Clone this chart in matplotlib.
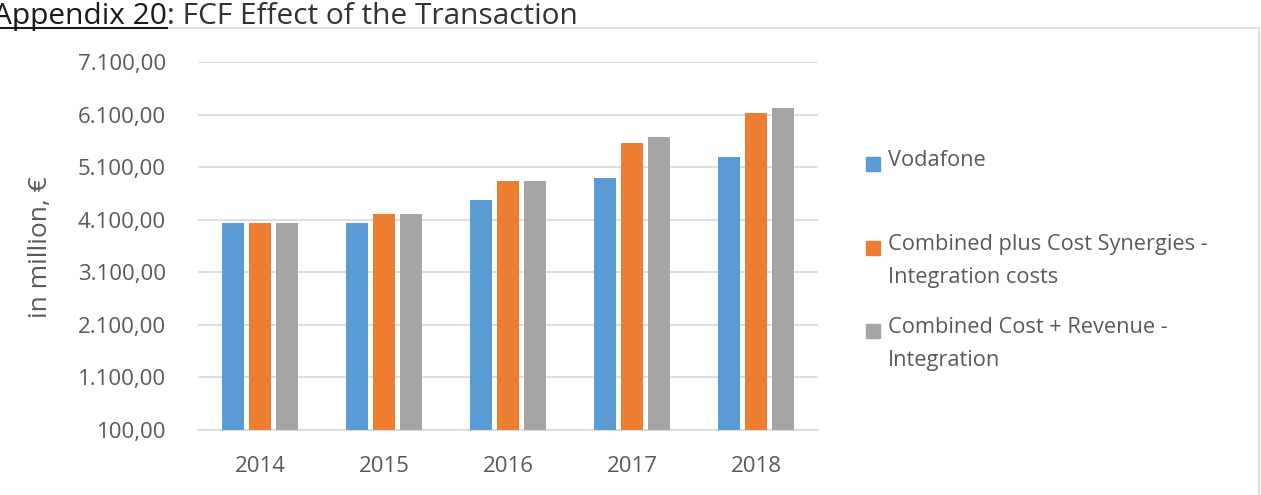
import matplotlib
matplotlib.use("Agg")
import matplotlib.pyplot as plt
from matplotlib.lines import Line2D
from matplotlib.patches import Rectangle
import numpy as np

years = ["2014", "2015", "2016", "2017", "2018"]
vodafone = [4037, 4037, 4467, 4885, 5294]
cost_syn = [4037, 4214, 4828, 5568, 6131]
cost_rev = [4037, 4214, 4828, 5670, 6231]
series_names = ["Vodafone",
                "Combined plus Cost Synergies -\nIntegration costs",
                "Combined Cost + Revenue -\nIntegration"]
colors = ["#5B9BD5", "#ED7D31", "#A5A5A5"]
yticks = [100, 1100, 2100, 3100, 4100, 5100, 6100, 7100]

plt.rcParams['font.family'] = ['Open Sans', 'DejaVu Sans']
W, H = 1261, 495
fig = plt.figure(figsize=(W / 100, H / 100), dpi=100)
ax = fig.add_axes([198 / W, 1 - 430 / H, 620 / W, 368 / H])

x = np.arange(len(years))
pitch = 0.221
width = 0.176
for i, (vals, c) in enumerate(zip([vodafone, cost_syn, cost_rev], colors)):
    ax.bar(x + (i - 1) * pitch, vals, width=width, color=c, zorder=3)

ax.set_xlim(-0.5, len(years) - 0.5)
ax.set_ylim(100, 7100)
ax.set_yticks(yticks)
ax.set_yticklabels([f"{v:,.2f}".replace(",", "X").replace(".", ",").replace("X", ".") for v in yticks])
ax.set_xticks(x)
ax.set_xticklabels(years)
ax.grid(axis='y', color='#D9D9D9', linewidth=1.2, zorder=0)
for s in ['top', 'right', 'left']:
    ax.spines[s].set_visible(False)
ax.spines['bottom'].set_color('#D9D9D9')
ax.spines['bottom'].set_linewidth(1.2)
ax.tick_params(axis='y', length=0, pad=23, labelsize=16, labelcolor='#595959')
ax.tick_params(axis='x', length=0, pad=18.5, labelsize=16, labelcolor='#595959')

fig.text(41 / W, 1 - 247 / H, "in million, €", rotation=90, ha='center', va='center',
         fontsize=19, color='#595959')

# legend (manual)
leg_y = [164, 248, 331]
for name, c, yy in zip(series_names, colors, leg_y):
    fig.add_artist(Rectangle((866 / W, 1 - (yy + 7) / H), 14 / W, 14 / H,
                             transform=fig.transFigure, color=c))
    fig.text(888 / W, 1 - (yy - 14) / H, name, ha='left', va='top', fontsize=15.7,
             color='#595959', linespacing=1.72)

# chart frame
fig.add_artist(Line2D([0, 1259 / W], [1 - 28 / H, 1 - 28 / H], transform=fig.transFigure,
                      color='#D9D9D9', linewidth=1.2))
fig.add_artist(Line2D([1259 / W, 1259 / W], [1 - 28 / H, 0], transform=fig.transFigure,
                      color='#D9D9D9', linewidth=1.2))

# title
t1 = fig.text(-7 / W, 1 - 2 / H, "Appendix 20", ha='left', va='top', fontsize=21.5,
              color='#1a1a1a')
fig.canvas.draw()
r = fig.canvas.get_renderer()
bb = t1.get_window_extent(r)
fig.text(bb.x1 / W, 1 - 2 / H, ": FCF Effect of the Transaction", ha='left', va='top',
         fontsize=21.5, color='#333333')
fig.add_artist(Line2D([max(bb.x0, 0) / W, bb.x1 / W], [(bb.y0 + 3) / H, (bb.y0 + 3) / H],
                      transform=fig.transFigure, color='#1a1a1a', linewidth=1.5))

fig.savefig("out.png", dpi=100)
